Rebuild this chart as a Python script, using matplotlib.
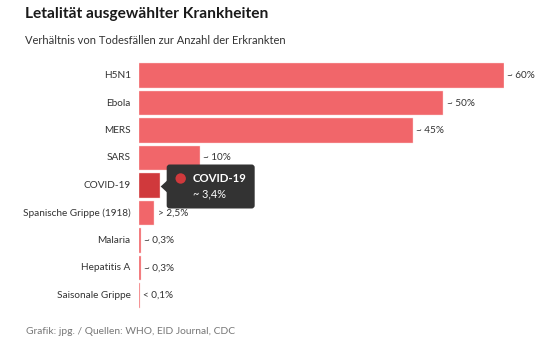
import matplotlib.pyplot as plt
from matplotlib.patches import FancyBboxPatch, Polygon, Circle
from matplotlib.transforms import IdentityTransform

plt.rcParams['font.family'] = ['Lato', 'DejaVu Sans']

diseases = ['H5N1', 'Ebola', 'MERS', 'SARS', 'COVID-19', 'Spanische Grippe (1918)',
            'Malaria', 'Hepatitis A', 'Saisonale Grippe']
lethality = [60, 50, 45, 10, 3.4, 2.5, 0.3, 0.3, 0.1]
value_labels = ['~ 60%', '~ 50%', '~ 45%', '~ 10%', '', '> 2,5%', '~ 0,3%', '~ 0,3%', '< 0,1%']
highlight = 'COVID-19'
highlight_label = '~ 3,4%'

W, H = 550, 358
fig = plt.figure(figsize=(W / 100, H / 100), dpi=100)
fig.patch.set_facecolor('white')

# axes placed in pixel units
left, right, top, bottom = 139, 504, 61.75, 309.25
ax = fig.add_axes([left / W, 1 - bottom / H, (right - left) / W, (bottom - top) / H])
ax.set_xlim(0, 60)
ax.set_ylim(len(diseases) - 0.5, -0.5)
ax.axis('off')

colors = ['#d0393c' if d == highlight else '#f1666a' for d in diseases]
ax.barh(range(len(diseases)), lethality, height=0.89, color=colors,
        edgecolor='#fbd5d6', linewidth=0.3)

for i, (d, v, lab) in enumerate(zip(diseases, lethality, value_labels)):
    ax.annotate(d, (0, i), xytext=(-6, 0), textcoords='offset points',
                ha='right', va='center', fontsize=7.2, color='#333333')
    if lab:
        ax.annotate(lab, (v, i), xytext=(2.5, 0), textcoords='offset points',
                    ha='left', va='center', fontsize=7.2, color='#333333')

# tooltip for highlighted bar
hi = diseases.index(highlight)
fig.canvas.draw()
ax_x, ax_y = ax.transData.transform((lethality[hi], hi))
tip_x = ax_x + 1
tip_y = ax_y - 1
bx0, bw, bh = tip_x + 6, 88, 44
by0 = tip_y - bh / 2
idt = IdentityTransform()
fig.patches.append(FancyBboxPatch((bx0, by0), bw, bh, boxstyle='round,pad=0,rounding_size=3',
                                  transform=idt, facecolor='#333333', edgecolor='none'))
fig.patches.append(Polygon([[tip_x, tip_y], [bx0 + 0.5, tip_y + 6], [bx0 + 0.5, tip_y - 6]],
                           closed=True, transform=idt, facecolor='#333333', edgecolor='none'))
fig.patches.append(Circle((bx0 + 14, by0 + bh - 14), 5.2, transform=idt,
                          facecolor='#d0393c', edgecolor='none'))
fig.text(bx0 + 26, by0 + bh - 14, highlight, transform=idt, ha='left', va='center',
         fontsize=8.2, fontweight='bold', color='white')
fig.text(bx0 + 26, by0 + 15, highlight_label, transform=idt, ha='left', va='center',
         fontsize=7.8, color='white')

fig.text(25 / W, 1 - 14 / H, 'Letalität ausgewählter Krankheiten', ha='left', va='center',
         fontsize=11.2, fontweight='bold', color='#1a1a1a')
fig.text(25 / W, 1 - 41 / H, 'Verhältnis von Todesfällen zur Anzahl der Erkrankten',
         ha='left', va='center', fontsize=8.0, color='#333333')
fig.text(26 / W, 1 - 332 / H, 'Grafik: jpg. / Quellen: WHO, EID Journal, CDC',
         ha='left', va='center', fontsize=7.4, color='#777777')

fig.savefig('out.png', dpi=100)
